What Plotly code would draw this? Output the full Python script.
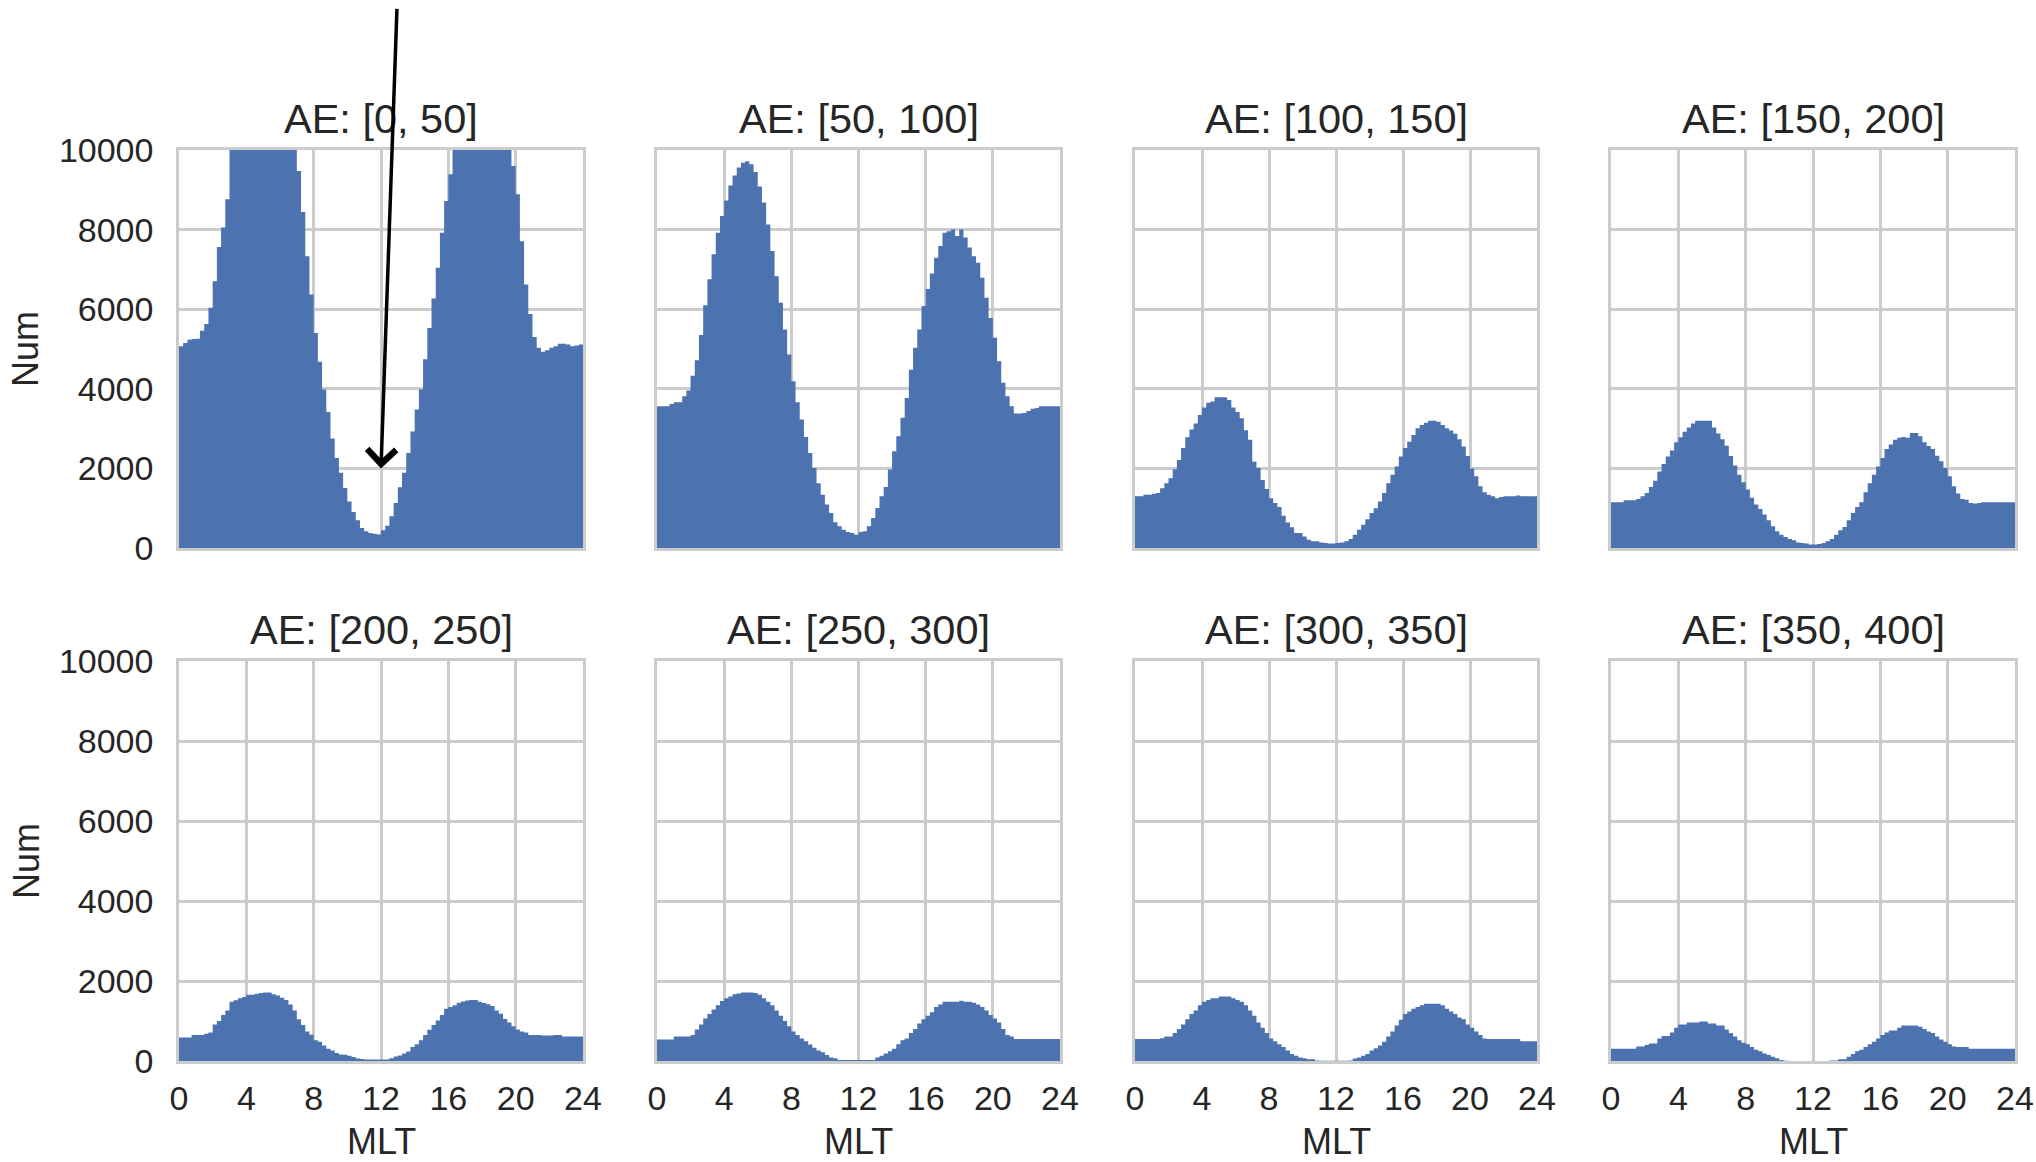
import plotly.graph_objects as go

W, H = 2036, 1162

# ---------------- data (counts per 0.25 h MLT bin, 96 bins from 0 to 24) ----------------
titles = ["AE: [0, 50]", "AE: [50, 100]", "AE: [100, 150]", "AE: [150, 200]",
          "AE: [200, 250]", "AE: [250, 300]", "AE: [300, 350]", "AE: [350, 400]"]

bin_width = 0.25
x_ticks = [0, 4, 8, 12, 16, 20, 24]
y_ticks = [0, 2000, 4000, 6000, 8000, 10000]

ae_0_50 = [5070, 5150, 5230, 5250, 5260, 5460, 5630, 6035, 6700, 7560, 8050, 8760,
           10400, 11000, 11600, 12100, 12500, 12800, 13000, 13100, 13000, 12800, 12500, 12100,
           11600, 11000, 10500, 10100, 9470, 8440, 7330, 6370, 5400, 4680, 3980, 3420,
           2750, 2260, 1890, 1510, 1170, 905, 700, 500, 420, 380, 360, 340,
           445, 560, 800, 1130, 1525, 1890, 2390, 2930, 3480, 3980, 4740, 5530,
           6270, 7040, 7920, 8720, 9390, 10300, 10800, 11300, 11700, 12000, 12200, 12300,
           12300, 12200, 12000, 11600, 11100, 10600, 10200, 9600, 8890, 7710, 6620, 5880,
           5300, 5030, 4930, 4970, 5030, 5070, 5130, 5130, 5110, 5070, 5090, 5110]

ae_50_100 = [3560, 3560, 3560, 3620, 3660, 3660, 3810, 3960, 4330, 4720, 5350, 6100,
             6750, 7380, 7920, 8340, 8730, 9110, 9360, 9560, 9680, 9720, 9640, 9450,
             9080, 8680, 8130, 7460, 6830, 6160, 5490, 4860, 4190, 3660, 3230, 2790,
             2390, 2010, 1630, 1340, 1090, 880, 645, 545, 460, 400, 380, 335,
             400, 420, 545, 755, 1005, 1300, 1530, 1970, 2430, 2810, 3270, 3770,
             4480, 5030, 5490, 6080, 6510, 6900, 7290, 7590, 7920, 7960, 8000, 7840,
             8000, 7800, 7550, 7330, 7170, 6790, 6290, 5780, 5280, 4690, 4150, 3810,
             3560, 3380, 3380, 3390, 3440, 3500, 3520, 3560, 3560, 3560, 3560, 3560]

ae_100_150 = [1300, 1300, 1340, 1340, 1360, 1380, 1500, 1630, 1755, 1980, 2210, 2510,
              2780, 2980, 3130, 3340, 3530, 3650, 3680, 3790, 3790, 3790, 3720, 3530,
              3420, 3260, 2960, 2720, 2170, 2010, 1710, 1480, 1250, 1130, 1030, 810,
              640, 520, 380, 380, 290, 210, 170, 170, 140, 125, 110, 110,
              125, 140, 170, 225, 335, 460, 585, 725, 880, 1000, 1170, 1380,
              1630, 1840, 2050, 2300, 2510, 2670, 2840, 3010, 3090, 3150, 3200, 3200,
              3170, 3090, 3010, 2950, 2870, 2730, 2550, 2310, 2000, 1800, 1550, 1400,
              1340, 1300, 1250, 1280, 1300, 1300, 1300, 1320, 1300, 1300, 1300, 1300]

ae_150_200 = [1150, 1150, 1150, 1200, 1200, 1200, 1230, 1300, 1380, 1530, 1690, 1920,
              2110, 2300, 2450, 2660, 2780, 2920, 3030, 3130, 3200, 3200, 3200, 3200,
              3030, 2880, 2730, 2570, 2310, 2070, 1840, 1650, 1470, 1260, 1090, 980,
              840, 700, 545, 420, 335, 275, 225, 195, 140, 125, 110, 85,
              85, 100, 125, 170, 225, 335, 445, 530, 700, 880, 1030, 1150,
              1400, 1630, 1840, 2050, 2260, 2490, 2600, 2720, 2770, 2790, 2770, 2890,
              2890, 2810, 2660, 2560, 2490, 2320, 2180, 2010, 1800, 1550, 1370, 1230,
              1210, 1130, 1120, 1130, 1150, 1150, 1150, 1150, 1150, 1150, 1150, 1150]

ae_200_250 = [590, 590, 590, 650, 650, 650, 680, 715, 915, 1000, 1150, 1260,
              1480, 1520, 1570, 1600, 1655, 1655, 1680, 1700, 1715, 1715, 1670, 1640,
              1580, 1525, 1410, 1260, 1045, 900, 740, 655, 520, 480, 390, 305,
              260, 200, 160, 155, 130, 100, 60, 50, 35, 35, 35, 35,
              35, 35, 70, 110, 140, 190, 235, 350, 420, 520, 650, 780,
              900, 1010, 1150, 1305, 1350, 1395, 1455, 1490, 1510, 1525, 1525, 1480,
              1450, 1420, 1375, 1260, 1180, 1050, 960, 870, 785, 740, 715, 650,
              650, 650, 635, 635, 635, 650, 650, 610, 610, 610, 610, 610]

ae_250_300 = [540, 540, 540, 540, 610, 610, 610, 610, 650, 785, 915, 1060,
              1175, 1290, 1395, 1500, 1570, 1610, 1670, 1690, 1715, 1715, 1715, 1700,
              1655, 1570, 1480, 1395, 1260, 1130, 1000, 870, 740, 650, 565, 495,
              410, 330, 260, 220, 150, 85, 70, 25, 25, 25, 25, 25,
              25, 25, 25, 25, 85, 130, 190, 245, 305, 420, 520, 565,
              700, 800, 940, 1045, 1130, 1220, 1350, 1410, 1480, 1480, 1480, 1480,
              1505, 1480, 1480, 1455, 1410, 1350, 1260, 1150, 1060, 960, 800, 650,
              610, 550, 550, 550, 550, 550, 550, 550, 550, 550, 550, 550]

ae_300_350 = [550, 550, 550, 550, 550, 550, 570, 610, 610, 700, 800, 915,
              1045, 1175, 1260, 1395, 1480, 1525, 1570, 1570, 1610, 1610, 1610, 1570,
              1525, 1480, 1395, 1260, 1130, 960, 830, 700, 565, 495, 420, 350,
              260, 175, 130, 85, 70, 45, 45, 15, 5, 5, 5, 5,
              5, 5, 5, 15, 60, 85, 130, 175, 260, 320, 390, 480,
              610, 740, 890, 1030, 1175, 1235, 1305, 1350, 1395, 1430, 1430, 1430,
              1430, 1395, 1305, 1235, 1175, 1090, 1045, 915, 830, 740, 650, 565,
              550, 550, 550, 550, 550, 550, 550, 550, 495, 495, 495, 495]

ae_350_400 = [305, 305, 305, 305, 305, 305, 365, 365, 400, 435, 435, 565,
              625, 625, 715, 830, 915, 915, 960, 960, 960, 985, 985, 940,
              940, 890, 890, 785, 700, 610, 520, 455, 420, 350, 280, 245,
              190, 150, 105, 70, 25, 5, 0, 0, 0, 0, 0, 0,
              0, 0, 0, 0, 15, 15, 45, 45, 105, 175, 245, 280,
              350, 420, 480, 565, 650, 715, 765, 765, 830, 890, 890, 890,
              890, 855, 800, 740, 700, 610, 540, 480, 420, 365, 350, 350,
              350, 305, 305, 305, 305, 305, 305, 305, 305, 305, 305, 305]

series = [ae_0_50, ae_50_100, ae_100_150, ae_150_200,
          ae_200_250, ae_250_300, ae_300_350, ae_350_400]

# ---------------- layout geometry (pixels) ----------------
col_px = [(179, 583), (657, 1060), (1135, 1537), (1611, 2015)]
row_px = [(150, 548), (661, 1061)]

BLUE = "#4C72B0"
GRID = "#cccccc"
TXT = "#262626"
FONT = "Liberation Sans, Arial, sans-serif"
TICK_SIZE = 34

fig = go.Figure()
layout = dict(
    width=W, height=H,
    margin=dict(l=0, r=0, t=0, b=0),
    paper_bgcolor="white", plot_bgcolor="white",
    showlegend=False,
    font=dict(family=FONT, color=TXT, size=TICK_SIZE),
)
annotations = []

for k, vals in enumerate(series):
    r, c = divmod(k, 4)
    xs = [i * bin_width for i in range(len(vals) + 1)]
    ys = list(vals) + [vals[-1]]
    sfx = "" if k == 0 else str(k + 1)
    fig.add_trace(go.Scatter(
        x=xs, y=ys, mode="lines", line=dict(width=0, shape="hv", color=BLUE),
        fill="tozeroy", fillcolor=BLUE, xaxis="x" + sfx, yaxis="y" + sfx,
        hoverinfo="skip"))
    x0, x1 = col_px[c]
    y0, y1 = row_px[r]
    xd = [x0 / W, x1 / W]
    yd = [1 - y1 / H, 1 - y0 / H]
    layout["xaxis" + sfx] = dict(
        domain=xd, anchor="y" + sfx, range=[0, 24], tickvals=x_ticks,
        showticklabels=(r == 1), ticks="", ticklabelstandoff=5,
        showgrid=True, gridcolor=GRID, gridwidth=2.5,
        showline=True, mirror=True, linecolor=GRID, linewidth=2.5, zeroline=False,
        tickfont=dict(size=TICK_SIZE, color=TXT, family=FONT), automargin=False,
        fixedrange=True)
    layout["yaxis" + sfx] = dict(
        domain=yd, anchor="x" + sfx, range=[0, 10000], tickvals=y_ticks, tickformat="d",
        showticklabels=(c == 0), ticks="", ticklabelstandoff=16,
        showgrid=True, gridcolor=GRID, gridwidth=2.5,
        showline=True, mirror=True, linecolor=GRID, linewidth=2.5, zeroline=False,
        tickfont=dict(size=TICK_SIZE, color=TXT, family=FONT), automargin=False,
        fixedrange=True)
    # subplot title
    annotations.append(dict(
        text=titles[k], xref="paper", yref="paper", x=(xd[0] + xd[1]) / 2, y=yd[1],
        xanchor="center", yanchor="middle", yshift=32, showarrow=False,
        font=dict(size=41.5, color=TXT, family=FONT)))
    if r == 1:
        annotations.append(dict(
            text="MLT", xref="paper", yref="paper", x=(xd[0] + xd[1]) / 2, y=1 - 1141 / H,
            xanchor="center", yanchor="middle", showarrow=False,
            font=dict(size=36, color=TXT, family=FONT)))
    if c == 0:
        annotations.append(dict(
            text="Num", xref="paper", yref="paper", x=26 / W, y=(yd[0] + yd[1]) / 2,
            xanchor="center", yanchor="middle", textangle=-90, showarrow=False,
            font=dict(size=36, color=TXT, family=FONT)))

# arrow pointing at the noon data gap in the first panel
annotations.append(dict(
    text="", xref="x", yref="y", x=12, y=2000, ax=16, ay=-461,
    showarrow=True, arrowhead=4, arrowsize=1.6, arrowwidth=3.5, arrowcolor="black",
    standoff=0))

layout["annotations"] = annotations
fig.update_layout(**layout)
fig.write_html("out.html")
